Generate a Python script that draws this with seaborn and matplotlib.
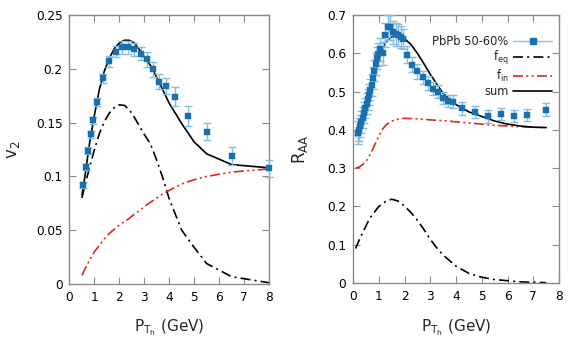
import numpy as np
import pandas as pd
import matplotlib
matplotlib.use("Agg")
import matplotlib.pyplot as plt
import seaborn as sns
from matplotlib.lines import Line2D

# LEFT PANEL: v2 data (PbPb 50-60%)
v2_pt = [0.55, 0.65, 0.75, 0.85, 0.95, 1.1, 1.35, 1.6, 1.85, 2.1, 2.35, 2.6,
         2.85, 3.1, 3.35, 3.6, 3.85, 4.25, 4.75, 5.5, 6.5, 8.0]
v2_val = [0.092, 0.109, 0.124, 0.139, 0.152, 0.169, 0.191, 0.207, 0.216, 0.220,
          0.220, 0.218, 0.214, 0.209, 0.1995, 0.188, 0.184, 0.174, 0.156, 0.1415,
          0.119, 0.1075]
v2_err = [0.003, 0.003, 0.003, 0.003, 0.003, 0.004, 0.004, 0.005, 0.005, 0.006,
          0.006, 0.006, 0.006, 0.007, 0.007, 0.007, 0.007, 0.009, 0.009, 0.008,
          0.008, 0.008]

# LEFT PANEL: model curves
v2_curve_pt = [0.5, 0.6, 0.8, 1.0, 1.2, 1.4, 1.6, 1.8, 2.0, 2.2, 2.4, 2.6, 2.8,
               3.0, 3.25, 3.5, 3.75, 4.0, 4.5, 5.0, 5.5, 6.5, 8.0]
v2_feq = [0.080, 0.090, 0.108, 0.125, 0.140, 0.151, 0.159, 0.164, 0.1665, 0.166,
          0.162, 0.155, 0.147, 0.139, 0.130, 0.115, 0.098, 0.079, 0.050, 0.034,
          0.019, 0.0068, 0.0012]
v2_fin = [0.008, 0.013, 0.022, 0.030, 0.036, 0.042, 0.047, 0.051, 0.055, 0.058,
          0.061, 0.065, 0.068, 0.072, 0.076, 0.080, 0.084, 0.087, 0.093, 0.097,
          0.100, 0.104, 0.107]
v2_sum = [0.083, 0.097, 0.130, 0.157, 0.181, 0.198, 0.210, 0.219, 0.224, 0.2265,
          0.2265, 0.224, 0.218, 0.211, 0.203, 0.192, 0.180, 0.168, 0.149, 0.132,
          0.121, 0.111, 0.108]

# RIGHT PANEL: RAA data
raa_pt = [0.175, 0.225, 0.275, 0.325, 0.375, 0.425, 0.475, 0.525, 0.575, 0.625,
          0.675, 0.725, 0.775, 0.825, 0.875, 0.925, 0.975, 1.05, 1.15, 1.25,
          1.35, 1.45, 1.55, 1.65, 1.75, 1.85, 1.95, 2.1, 2.3, 2.5, 2.7, 2.9,
          3.1, 3.3, 3.5, 3.7, 3.9, 4.25, 4.75, 5.25, 5.75, 6.25, 6.75, 7.5]
raa_val = [0.392, 0.400, 0.410, 0.420, 0.432, 0.445, 0.457, 0.468, 0.480, 0.492,
           0.505, 0.517, 0.535, 0.555, 0.573, 0.588, 0.598, 0.610, 0.600, 0.648,
           0.668, 0.668, 0.655, 0.650, 0.647, 0.642, 0.638, 0.596, 0.570, 0.553,
           0.537, 0.522, 0.507, 0.499, 0.483, 0.475, 0.474, 0.456, 0.446, 0.435,
           0.441, 0.437, 0.438, 0.452]
raa_err = [0.030, 0.030, 0.029, 0.028, 0.028, 0.028, 0.027, 0.027, 0.027, 0.027,
           0.027, 0.028, 0.028, 0.028, 0.029, 0.029, 0.030, 0.030, 0.030, 0.032,
           0.032, 0.032, 0.030, 0.030, 0.029, 0.028, 0.026, 0.022, 0.020, 0.019,
           0.018, 0.018, 0.017, 0.017, 0.016, 0.016, 0.016, 0.016, 0.016, 0.016,
           0.016, 0.016, 0.016, 0.017]

# RIGHT PANEL: model curves
raa_sum_pt = [0.1, 0.25, 0.5, 0.75, 1.0, 1.25, 1.5, 1.75, 2.0, 2.25, 2.5, 2.75,
              3.0, 3.5, 4.0, 4.5, 5.0, 5.5, 6.0, 6.5, 7.0, 7.5]
raa_sum = [0.385, 0.410, 0.460, 0.527, 0.588, 0.628, 0.643, 0.645, 0.638, 0.623,
           0.600, 0.573, 0.545, 0.495, 0.466, 0.447, 0.435, 0.423, 0.415, 0.410,
           0.407, 0.406]
raa_fin_pt = [0.1, 0.25, 0.4, 0.55, 0.7, 0.85, 1.0, 1.15, 1.3, 1.5, 1.75, 2.0,
              2.5, 3.0, 3.5, 4.0, 4.5, 5.0, 5.5, 6.0, 6.5, 7.0, 7.5]
raa_fin = [0.300, 0.303, 0.311, 0.322, 0.340, 0.362, 0.384, 0.402, 0.414, 0.423,
           0.428, 0.430, 0.429, 0.426, 0.424, 0.421, 0.418, 0.415, 0.412, 0.410,
           0.408, 0.407, 0.406]
raa_feq_pt = [0.1, 0.25, 0.4, 0.65, 1.0, 1.25, 1.5, 1.75, 2.0, 2.25, 2.5, 2.75,
              3.0, 3.25, 3.5, 4.0, 4.5, 5.0, 5.5, 6.0, 6.5, 7.0, 7.5]
raa_feq = [0.090, 0.114, 0.135, 0.169, 0.200, 0.212, 0.219, 0.214, 0.201, 0.184,
           0.164, 0.140, 0.114, 0.092, 0.073, 0.044, 0.025, 0.015, 0.009, 0.006,
           0.003, 0.002, 0.001]

# STYLE
sns.set_theme(style="ticks")
plt.rcParams["font.family"] = ["DejaVu Sans"]

blue = "#1a6fae"
light_blue = "#86bde0"
red = "#e0251b"
frame = "#8a8a8a"
dashdot = (0, (6, 2.5, 1.2, 2.5))
dashdotdot = (0, (6, 2, 1.2, 2, 1.2, 2))

fig = plt.figure(figsize=(5.81, 3.49), dpi=100)
ax1 = fig.add_axes([0.1196, 0.1862, 0.3434, 0.7708])
ax2 = fig.add_axes([0.6076, 0.1891, 0.3546, 0.7679])


def style_axes(ax):
    for s in ax.spines.values():
        s.set_color(frame)
        s.set_linewidth(1.0)
    ax.tick_params(direction="in", length=5, width=0.8, color=frame,
                   top=True, right=True, labelsize=8.7, labelcolor="black", pad=5)


def draw_data(ax, x, y, err):
    eb = ax.errorbar(x, y, yerr=err, fmt="none", ecolor=light_blue,
                     elinewidth=1.0, capsize=3, capthick=1.0, zorder=3)
    for art in eb.lines[1] + eb.lines[2]:
        art.set_clip_on(False)
    sns.scatterplot(x=x, y=y, ax=ax, marker="s", s=24, color=blue,
                    edgecolor=blue, linewidth=0.3, zorder=4, clip_on=False)


# LEFT PANEL
draw_data(ax1, v2_pt, v2_val, v2_err)
df_l = pd.DataFrame({"pt": v2_curve_pt, "feq": v2_feq, "fin": v2_fin, "sum": v2_sum})
sns.lineplot(data=df_l, x="pt", y="feq", ax=ax1, color="black", lw=1.2,
             linestyle=dashdot, sort=False)
sns.lineplot(data=df_l, x="pt", y="fin", ax=ax1, color=red, lw=1.2,
             linestyle=dashdotdot, sort=False)
sns.lineplot(data=df_l, x="pt", y="sum", ax=ax1, color="black", lw=1.2,
             sort=False)

ax1.set_xlim(0, 8)
ax1.set_ylim(0, 0.25)
ax1.set_xticks(range(0, 9))
ax1.set_yticks([0, 0.05, 0.1, 0.15, 0.2, 0.25])
ax1.set_yticklabels(["0", "0.05", "0.1", "0.15", "0.2", "0.25"])
style_axes(ax1)
ax1.set_xlabel(r"P$_{\mathrm{T_h}}$ (GeV)", fontsize=11)
ax1.set_ylabel(r"v$_2$", fontsize=12)
ax1.xaxis.set_label_coords(0.5, -0.125)
ax1.yaxis.set_label_coords(-0.24, 0.5)

# RIGHT PANEL
draw_data(ax2, raa_pt, raa_val, raa_err)
sns.lineplot(x=raa_feq_pt, y=raa_feq, ax=ax2, color="black", lw=1.2,
             linestyle=dashdot, sort=False)
sns.lineplot(x=raa_fin_pt, y=raa_fin, ax=ax2, color=red, lw=1.2,
             linestyle=dashdotdot, sort=False)
sns.lineplot(x=raa_sum_pt, y=raa_sum, ax=ax2, color="black", lw=1.2, sort=False)

ax2.set_xlim(0, 8)
ax2.set_ylim(0, 0.7)
ax2.set_xticks(range(0, 9))
ax2.set_yticks([0, 0.1, 0.2, 0.3, 0.4, 0.5, 0.6, 0.7])
ax2.set_yticklabels(["0", "0.1", "0.2", "0.3", "0.4", "0.5", "0.6", "0.7"])
style_axes(ax2)
ax2.set_xlabel(r"P$_{\mathrm{T_h}}$ (GeV)", fontsize=11)
ax2.set_ylabel(r"R$_{\mathrm{AA}}$", fontsize=12)
ax2.xaxis.set_label_coords(0.5, -0.13)
ax2.yaxis.set_label_coords(-0.21, 0.5)

handles = [
    Line2D([], [], color=light_blue, lw=1.0, marker="s", ms=5,
           markerfacecolor=blue, markeredgecolor=blue),
    Line2D([], [], color="black", lw=1.2, linestyle=dashdot),
    Line2D([], [], color=red, lw=1.2, linestyle=dashdotdot),
    Line2D([], [], color="black", lw=1.2),
]
labels = ["PbPb 50-60%", r"f$_{\mathrm{eq}}$", r"f$_{\mathrm{in}}$", "sum"]
ax2.legend(handles, labels, loc="upper right", bbox_to_anchor=(1.0, 0.95),
           frameon=False, markerfirst=False, fontsize=8.3, handlelength=3.4,
           handletextpad=0.4, labelspacing=0.08, borderaxespad=0.2)

fig.savefig("out.png", dpi=100)
